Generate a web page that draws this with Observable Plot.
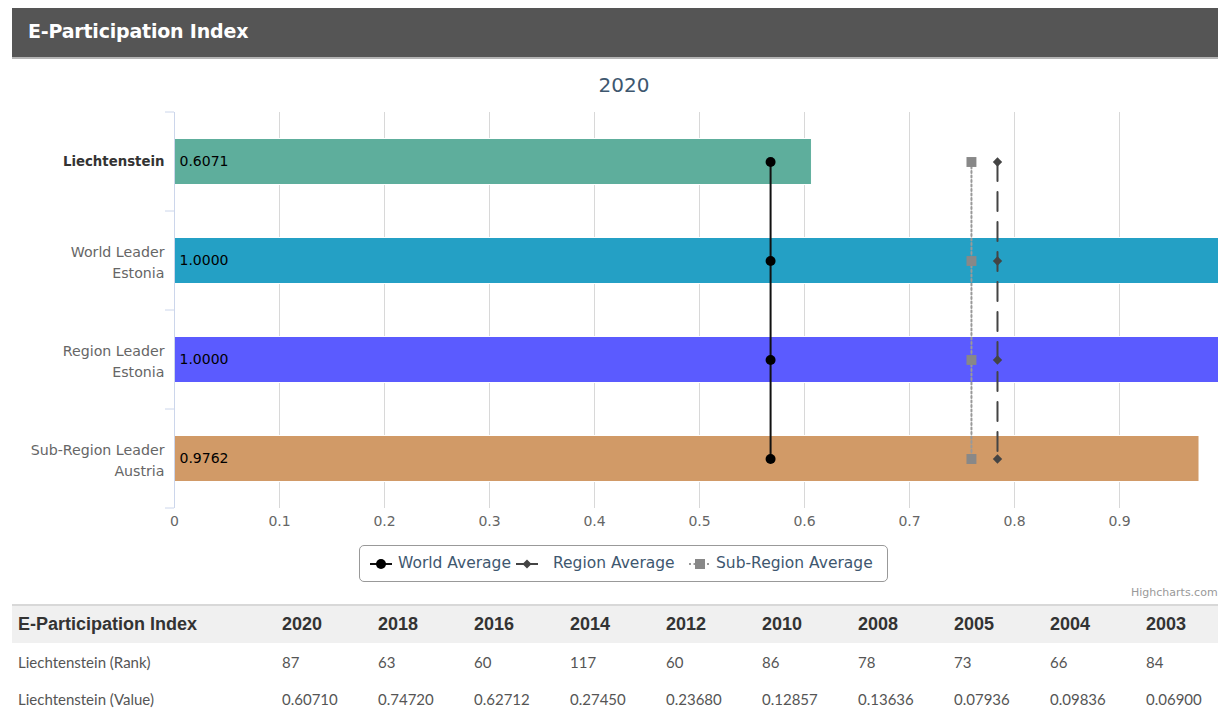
<!DOCTYPE html>
<html><head><meta charset="utf-8">
<script src="https://cdn.jsdelivr.net/npm/d3@7"></script>
<script src="https://cdn.jsdelivr.net/npm/@observablehq/plot@0.6"></script>
<style>
html,body{margin:0;padding:0;background:#fff;overflow:hidden;width:1218px;height:712px;}
#page{position:relative;width:1218px;height:712px;overflow:hidden;}
#hdr{position:absolute;left:12px;top:8px;width:1220px;height:49px;background:#555555;border-bottom:2px solid #b5b5b5;}
#hdr span{position:absolute;left:16px;top:12px;color:#fff;font:bold 19px "DejaVu Sans",sans-serif;letter-spacing:-0.2px;}
#title{position:absolute;left:0;width:1248px;top:73px;text-align:center;font:20px "DejaVu Sans",sans-serif;color:#3e576f;}
#chart{position:absolute;left:0;top:100px;width:1224px;}
#chart svg{max-width:none !important;}
#legend{position:absolute;left:359px;top:545px;width:527px;height:35px;border:1px solid #999;border-radius:5px;box-sizing:content-box;font:15.5px "DejaVu Sans",sans-serif;color:#3e576f;}
#legend .item{position:absolute;top:8px;white-space:nowrap;}
#legend svg{position:absolute;top:3px;}
#credit{position:absolute;left:1131px;top:586px;font:11px "DejaVu Sans",sans-serif;color:#999;white-space:nowrap;}
#tbl{position:absolute;left:12px;top:604px;border-collapse:collapse;table-layout:fixed;width:1220px;}
#tbl td,#tbl th{padding:0 0 0 6px;height:37px;text-align:left;white-space:nowrap;}
#tbl thead tr{background:#f0f0f0;border-top:2px solid #d8d8d8;}
#tbl th{font:bold 18px "Liberation Sans Narrow","Arial Narrow","Liberation Sans",sans-serif;color:#333;}
#tbl td{font:15px "Lato",sans-serif;color:#555;}
</style></head>
<body><div id="page">
<div id="hdr"><span>E-Participation Index</span></div>
<div id="title"></div>
<div id="chart"></div>
<div id="legend"></div>
<div id="credit">Highcharts.com</div>
<table id="tbl"></table>
</div>
<script>
// ---- data ----
const chartTitle = "2020";
const categories = ["Liechtenstein", "World Leader\nEstonia", "Region Leader\nEstonia", "Sub-Region Leader\nAustria"];
const values = [0.6071, 1.0000, 1.0000, 0.9762];
const barColors = ["#5eae9c", "#24a0c5", "#5b5bff", "#d19a67"];
const worldAverage = 0.5677;
const regionAverage = 0.7838;
const subRegionAverage = 0.7590;
const xTicks = [0, 0.1, 0.2, 0.3, 0.4, 0.5, 0.6, 0.7, 0.8, 0.9];
const legendNames = ["World Average", "Region Average", "Sub-Region Average"];
const tableTitle = "E-Participation Index";
const years = ["2020", "2018", "2016", "2014", "2012", "2010", "2008", "2005", "2004", "2003"];
const ranks = [87, 63, 60, 117, 60, 86, 78, 73, 66, 84];
const yearValues = ["0.60710", "0.74720", "0.62712", "0.27450", "0.23680", "0.12857", "0.13636", "0.07936", "0.09836", "0.06900"];
const rowLabels = ["Liechtenstein (Rank)", "Liechtenstein (Value)"];

document.getElementById("title").textContent = chartTitle;

const bars = categories.map((c, i) => ({cat: c, value: values[i], color: barColors[i]}));
const avg = v => categories.map(c => ({cat: c, value: v}));

const chart = Plot.plot({
  width: 1224, height: 440,
  marginLeft: 174, marginRight: 0, marginTop: 12, marginBottom: 32,
  style: {fontFamily: "DejaVu Sans", fontSize: "13px", background: "transparent", overflow: "visible", maxWidth: "none"},
  x: {domain: [0, 1]},
  y: {domain: categories, padding: 0, axis: null},
  color: {type: "identity"},
  marks: [
    Plot.gridX(xTicks.filter(d => d > 0), {stroke: "#d8d8d8", strokeOpacity: 1, strokeWidth: 1}),
    Plot.axisX(xTicks, {tickSize: 0, tickPadding: 8, fill: "#666", fontSize: 14, tickFormat: d => d === 0 ? "0" : d3.format(".1f")(d), label: null}),
    Plot.barX(bars, {x: "value", y: "cat", fill: "color", insetTop: 26.5, insetBottom: 26.5, stroke: "#fff", strokeWidth: 1}),
    Plot.ruleX([0], {stroke: "#ccd6eb", strokeWidth: 1}),
    Plot.text(bars, {x: 0, y: "cat", text: d => d3.format(".4f")(d.value), dx: 5, textAnchor: "start", fill: "#000", fontSize: 14}),
    Plot.text(bars.slice(0, 1), {y: "cat", frameAnchor: "left", dx: -10, textAnchor: "end", text: "cat", fontWeight: "bold", fill: "#333", fontSize: 13.3}),
    Plot.text(bars.slice(1), {y: "cat", frameAnchor: "left", dx: -10, textAnchor: "end", text: "cat", fill: "#666", fontSize: 14.2, lineHeight: 1.42}),
    Plot.line(avg(subRegionAverage), {x: "value", y: "cat", stroke: "#999", strokeWidth: 2, strokeDasharray: "2,2.5"}),
    Plot.line(avg(regionAverage), {x: "value", y: "cat", stroke: "#444", strokeWidth: 2, strokeDasharray: "19,11"}),
    Plot.line(avg(worldAverage), {x: "value", y: "cat", stroke: "#111", strokeWidth: 2}),
    Plot.dot(avg(worldAverage), {x: "value", y: "cat", r: 5, fill: "#000", symbol: "circle"}),
    Plot.dot(avg(regionAverage), {x: "value", y: "cat", r: 4.2, fill: "#444", symbol: "diamond2"}),
    Plot.dot(avg(subRegionAverage), {x: "value", y: "cat", r: 5.6, fill: "#888", symbol: "square"})
  ]
});
chart.style.maxWidth = "none";
document.getElementById("chart").appendChild(chart);

// y-axis band boundary ticks from the library's y scale (apply returns band start)
const ys = chart.scale("y");
const bounds = categories.map(c => ys.apply(c));
bounds.push(ys.apply(categories[categories.length - 1]) + ys.bandwidth);
const x0 = chart.scale("x").apply(0);
const svg = d3.select(chart.tagName.toLowerCase() === "svg" ? chart : chart.querySelector("svg"));
svg.append("g").selectAll("line").data(bounds).join("line")
  .attr("x1", x0 - 9).attr("x2", x0).attr("y1", d => d).attr("y2", d => d)
  .attr("stroke", "#ccd6eb").attr("stroke-width", 1);

// legend
const leg = document.getElementById("legend");
const legendIcons = [
  `<line x1="0" y1="6" x2="22" y2="6" stroke="#111" stroke-width="2"/><circle cx="11" cy="6" r="5" fill="#000"/>`,
  `<line x1="0" y1="6" x2="22" y2="6" stroke="#444" stroke-width="2"/><path d="M11,1.5L15.5,6L11,10.5L6.5,6Z" fill="#444"/>`,
  `<line x1="0" y1="6" x2="22" y2="6" stroke="#999" stroke-width="2" stroke-dasharray="2,2.5"/><rect x="6" y="1" width="10" height="10" fill="#888"/>`
];
const iconX = [10, 156, 329];
const textX = [38, 193, 356];
legendNames.forEach((n, i) => {
  const s = document.createElement("span");
  s.className = "item";
  s.style.left = textX[i] + "px";
  s.textContent = n;
  leg.appendChild(s);
  const ic = document.createElementNS("http://www.w3.org/2000/svg", "svg");
  ic.setAttribute("width", 22); ic.setAttribute("height", 12);
  ic.style.left = iconX[i] + "px"; ic.style.top = "12px";
  ic.innerHTML = legendIcons[i];
  leg.appendChild(ic);
});

// table
const tbl = document.getElementById("tbl");
let html = `<colgroup><col style="width:264px">${years.map(() => '<col style="width:96px">').join("")}</colgroup>`;
html += `<thead><tr><th>${tableTitle}</th>${years.map(y => `<th>${y}</th>`).join("")}</tr></thead><tbody>`;
html += `<tr><td>${rowLabels[0]}</td>${ranks.map(r => `<td>${r}</td>`).join("")}</tr>`;
html += `<tr><td>${rowLabels[1]}</td>${yearValues.map(v => `<td>${v}</td>`).join("")}</tr></tbody>`;
tbl.innerHTML = html;
</script>
</body></html>
